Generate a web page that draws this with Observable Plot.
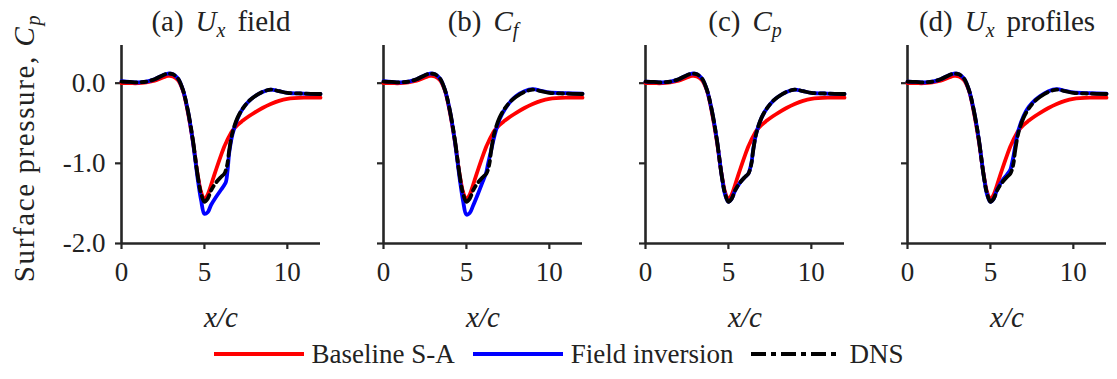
<!DOCTYPE html>
<html><head><meta charset="utf-8">
<script src="https://cdn.jsdelivr.net/npm/d3@7"></script>
<script src="https://cdn.jsdelivr.net/npm/@observablehq/plot@0.6"></script>
<style>
body{margin:0;background:#fff;}
#wrap{width:1117px;height:379px;position:relative;font-family:"Liberation Serif","Times New Roman",Times,"DejaVu Serif","Noto Serif",serif;color:#222;}
#legend{display:flex;justify-content:center;align-items:center;height:32px;font-size:27px;}
.item{display:flex;align-items:center;margin:0 9px;}
.item svg{margin-right:8px;}
</style></head><body><div id="wrap"><div id="chart"></div><div id="legend"></div></div>
<script>
const panels = ["a", "b", "c", "d"];
const panelTitles = ["(a)|U|x|field", "(b)|C|f|", "(c)|C|p|", "(d)|U|x|profiles"];
const xs = [0, 0.5, 1, 1.5, 2, 2.5, 2.8, 3.1, 3.4, 3.7, 4.0, 4.3, 4.6, 4.8, 5.0, 5.2, 5.4, 5.7, 6.0, 6.2, 6.3, 6.4, 6.5, 6.7, 7.0, 7.3, 7.7, 8.0, 8.5, 9.0, 9.5, 10, 11, 12];
const dns = [0.02, 0.015, 0.01, 0.02, 0.05, 0.10, 0.12, 0.11, 0.06, -0.08, -0.34, -0.70, -1.16, -1.38, -1.48, -1.44, -1.34, -1.24, -1.17, -1.13, -1.08, -0.99, -0.83, -0.61, -0.43, -0.32, -0.22, -0.17, -0.11, -0.08, -0.10, -0.12, -0.13, -0.135];
const baseline = [0.0, 0.0, 0.0, 0.01, 0.03, 0.07, 0.09, 0.085, 0.04, -0.09, -0.36, -0.72, -1.15, -1.36, -1.45, -1.39, -1.27, -1.08, -0.90, -0.79, -0.745, -0.70, -0.66, -0.59, -0.52, -0.47, -0.41, -0.37, -0.31, -0.26, -0.22, -0.195, -0.18, -0.18];
const fieldA = [0.025, 0.015, 0.01, 0.02, 0.05, 0.10, 0.12, 0.11, 0.06, -0.08, -0.34, -0.72, -1.20, -1.46, -1.63, -1.61, -1.52, -1.42, -1.33, -1.27, -1.23, -1.08, -0.86, -0.63, -0.44, -0.32, -0.22, -0.17, -0.11, -0.08, -0.10, -0.12, -0.13, -0.135];
const fieldB = [0.025, 0.015, 0.01, 0.02, 0.05, 0.10, 0.12, 0.11, 0.06, -0.08, -0.34, -0.72, -1.20, -1.47, -1.64, -1.62, -1.53, -1.38, -1.22, -1.11, -1.01, -0.92, -0.83, -0.65, -0.45, -0.33, -0.22, -0.16, -0.10, -0.075, -0.095, -0.115, -0.125, -0.13];
const fieldC = [0.02, 0.015, 0.01, 0.02, 0.05, 0.10, 0.12, 0.11, 0.06, -0.08, -0.34, -0.70, -1.16, -1.39, -1.48, -1.44, -1.34, -1.24, -1.17, -1.13, -1.07, -0.98, -0.82, -0.61, -0.43, -0.32, -0.22, -0.17, -0.11, -0.08, -0.10, -0.12, -0.13, -0.135];
const fieldD = [0.02, 0.015, 0.01, 0.02, 0.05, 0.10, 0.12, 0.11, 0.06, -0.08, -0.34, -0.70, -1.16, -1.39, -1.48, -1.44, -1.33, -1.22, -1.14, -1.08, -1.0, -0.90, -0.78, -0.58, -0.41, -0.30, -0.21, -0.16, -0.10, -0.075, -0.095, -0.115, -0.125, -0.13];
const xTicks = [0, 5, 10];
const yTicks = [0, -1, -2];
const yTickLabels = ["0.0", "-1.0", "-2.0"];
const seriesNames = ["Baseline S-A", "Field inversion", "DNS"];
const seriesColors = ["#ff0000", "#0000ff", "#000000"];
const xLabel = "x/c";
const yLabelText = "Surface pressure, ";
const yLabelMath = ["C", "p"];

const fieldSeries = [fieldA, fieldB, fieldC, fieldD];
const rows = [];
panels.forEach((p, pi) => {
  [baseline, fieldSeries[pi], dns].forEach((arr, si) => {
    xs.forEach((x, i) => rows.push({panel: p, series: seriesNames[si], x, y: arr[i]}));
  });
});

const serif = '"Liberation Serif", "Times New Roman", Times, "DejaVu Serif", "Noto Serif", serif';
const dash = "15,5,5,5";
const axisColor = "#262626";
const fontSize = 27;

const chart = Plot.plot({
  width: 1117, height: 338,
  marginLeft: 119, marginRight: 9, marginTop: 45, marginBottom: 95,
  style: {fontFamily: serif, fontSize: fontSize + "px", color: "#222", background: "#fff"},
  fx: {domain: panels, axis: null, paddingInner: 0.2395, paddingOuter: 0},
  x: {domain: [0, 12]},
  y: {domain: [-2, 0.47]},
  marks: [
    Plot.axisY({ticks: yTicks, tickSize: 6, tickFormat: () => "", facetAnchor: null, stroke: axisColor, strokeWidth: 2.2, label: null}),
    Plot.axisY({ticks: yTicks, tickSize: 0, tickPadding: 16, tickFormat: d => yTickLabels[yTicks.indexOf(d)], facetAnchor: "left", fill: "#222", label: null, fontSize: fontSize}),
    Plot.axisX({ticks: xTicks, tickSize: 6, tickPadding: 12, stroke: axisColor, strokeWidth: 2.2, fill: "#222", label: null, fontSize: fontSize}),
    Plot.ruleX([0], {stroke: axisColor, strokeWidth: 2.6}),
    Plot.ruleY([-2], {stroke: axisColor, strokeWidth: 2.6}),
    Plot.line(rows.filter(d => d.series === seriesNames[0]), {x: "x", y: "y", fx: "panel", stroke: seriesColors[0], strokeWidth: 3.8, curve: "catmull-rom"}),
    Plot.line(rows.filter(d => d.series === seriesNames[1]), {x: "x", y: "y", fx: "panel", stroke: seriesColors[1], strokeWidth: 3.8, curve: "catmull-rom"}),
    Plot.line(rows.filter(d => d.series === seriesNames[2]), {x: "x", y: "y", fx: "panel", stroke: seriesColors[2], strokeWidth: 3.8, strokeDasharray: dash, curve: "catmull-rom"}),
    Plot.text(panels, {fx: d => d, text: (d, i) => panelTitles[i].split("|").join(" "), frameAnchor: "top", dy: -35, fontSize: 29, fill: "#222"}),
    Plot.text([xLabel], {text: d => d, frameAnchor: "bottom", dy: 83, fontSize: 29, fontStyle: "italic", fill: "#222"})
  ]
});
document.getElementById("chart").appendChild(chart);

// Rich text for facet titles (italic math symbols with subscripts)
const svg = d3.select(chart);
const plainTitles = panelTitles.map(s => s.split("|").join(" "));
svg.selectAll("text").each(function() {
  const t = d3.select(this);
  const idx = plainTitles.indexOf(t.text());
  if (idx < 0) return;
  const [pre, sym, sub, post] = panelTitles[idx].split("|");
  t.text(null);
  t.append("tspan").text(pre);
  t.append("tspan").attr("dx", 12).attr("font-style", "italic").text(sym);
  t.append("tspan").attr("font-style", "italic").attr("font-size", 20).attr("dy", 6).text(sub);
  if (post) t.append("tspan").attr("dx", 12).attr("dy", -6).text(post);
});

// Y axis title
const yl = svg.append("text")
  .attr("transform", "translate(25,148) rotate(-90)")
  .attr("text-anchor", "middle").attr("dy", "0.32em")
  .attr("font-size", 29).attr("fill", "#222").attr("letter-spacing", 1.6)
  .attr("font-family", serif);
yl.append("tspan").text(yLabelText);
yl.append("tspan").attr("font-style", "italic").text(yLabelMath[0]);
yl.append("tspan").attr("font-style", "italic").attr("font-size", 20).attr("dy", 6).text(yLabelMath[1]);

// Legend
const legend = d3.select("#legend");
seriesNames.forEach((name, i) => {
  const item = legend.append("div").attr("class", "item");
  const s = item.append("svg").attr("width", 90).attr("height", 10);
  s.append("line").attr("x1", 0).attr("x2", 90).attr("y1", 5).attr("y2", 5)
    .attr("stroke", seriesColors[i]).attr("stroke-width", 4)
    .attr("stroke-dasharray", i === 2 ? dash : null);
  item.append("span").text(name);
});
</script></body></html>
